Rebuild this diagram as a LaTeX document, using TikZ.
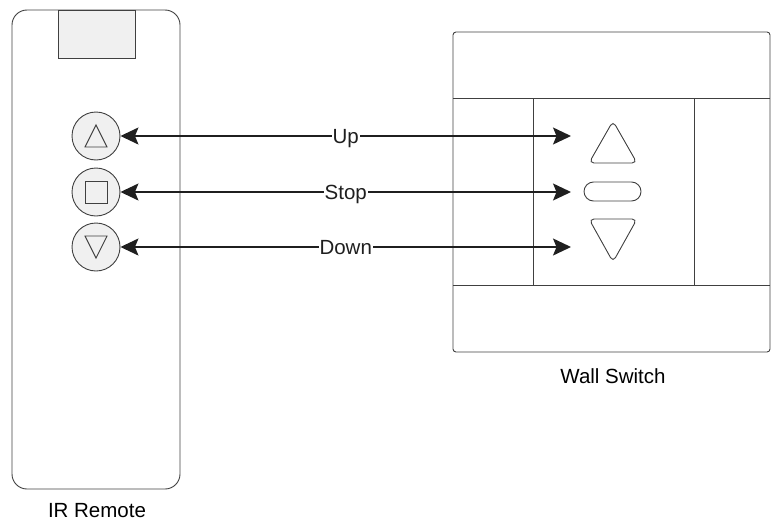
\documentclass[tikz,border=0pt]{standalone}
\usepackage{fontspec}
\setmainfont{Liberation Sans}
\usetikzlibrary{arrows.meta,calc}
\begin{document}
\begin{tikzpicture}[x=1pt,y=-1pt,
  outline/.style={draw=black!75, line width=0.9pt},
  btn/.style={outline, circle, fill=black!6, minimum size=48pt, inner sep=0pt},
  sig/.style={black!88, line width=1.5pt, {Stealth[length=18pt,width=17pt,inset=3.5pt]}-{Stealth[length=18pt,width=17pt,inset=3.5pt]}},
  lbl/.style={fill=white, inner xsep=1pt, inner ysep=2pt, text height=14.7pt, text depth=0pt, font=\fontsize{20.5}{24}\selectfont},
  captxt/.style={inner sep=0pt, text height=14.7pt, text depth=0pt, font=\fontsize{20.5}{24}\selectfont}]
\useasboundingbox (0,0) rectangle (778,522);
% IR remote
\node[outline, rounded corners=15pt, minimum width=168pt, minimum height=479pt, inner sep=0pt] (remote) at (96,249.5) {};
\node[outline, fill=black!6, minimum width=77pt, minimum height=48pt, inner sep=0pt] (screen) at (96.5,34) {};
\node[btn] (upbtn) at (96,136) {};
\node[btn] (stopbtn) at (96,192) {};
\node[btn] (downbtn) at (96,247) {};
\draw[outline] ($(upbtn)+(-11,11)$) -- ($(upbtn)+(11,11)$) -- ($(upbtn)+(0,-11)$) -- cycle;
\draw[outline] ($(stopbtn)+(-11,-11)$) rectangle ($(stopbtn)+(11,11)$);
\draw[outline] ($(downbtn)+(-11,-11)$) -- ($(downbtn)+(11,-11)$) -- ($(downbtn)+(0,11)$) -- cycle;
\node[captxt] (remotelbl) at (97,510) {IR Remote};
% Wall switch
\node[outline, rounded corners=3pt, minimum width=317pt, minimum height=320pt, inner sep=0pt] (switch) at (611.5,192) {};
\coordinate (hl1) at (453,98);
\coordinate (hr1) at (770,98);
\coordinate (hl2) at (453,285);
\coordinate (hr2) at (770,285);
\draw[outline] (hl1) -- (hr1);
\draw[outline] (hl2) -- (hr2);
\coordinate (v1t) at (533,98);
\coordinate (v1b) at (533,285);
\coordinate (v2t) at (694,98);
\coordinate (v2b) at (694,285);
\draw[outline] (v1t) -- (v1b);
\draw[outline] (v2t) -- (v2b);
\draw[outline, rounded corners=5pt] (589,163) -- (637,163) -- (613,121) -- cycle;
\node[outline, rounded corners=9.5pt, minimum width=57pt, minimum height=19pt, inner sep=0pt] (stopkey) at (612.5,191.5) {};
\draw[outline, rounded corners=5pt] (589,219) -- (637,219) -- (613,262) -- cycle;
\node[captxt] (switchlbl) at (613,376) {Wall Switch};
% signal arrows
\coordinate (upend) at (571,136);
\coordinate (stopend) at (571,192);
\coordinate (downend) at (571,247);
\draw[sig] (upbtn.east) -- node[lbl] {Up} (upend);
\draw[sig] (stopbtn.east) -- node[lbl] {Stop} (stopend);
\draw[sig] (downbtn.east) -- node[lbl] {Down} (downend);
\end{tikzpicture}
\end{document}
